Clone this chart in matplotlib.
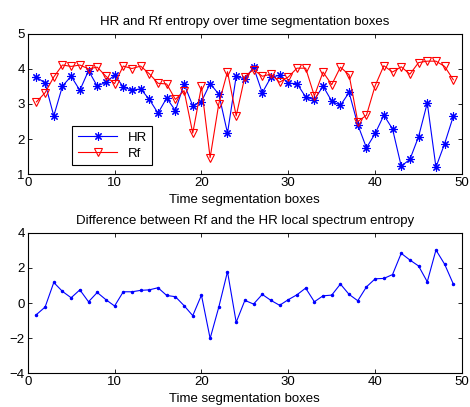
import numpy as np
import matplotlib
matplotlib.use('Agg')
import matplotlib.pyplot as plt

plt.rcParams['font.family'] = ['Liberation Sans', 'DejaVu Sans']
plt.rcParams['font.size'] = 9.5

boxes = np.arange(1, 50)

hr = [3.77, 3.59, 2.66, 3.51, 3.79, 3.39, 3.95, 3.51, 3.62, 3.82,
      3.49, 3.39, 3.43, 3.13, 2.74, 3.17, 2.81, 3.57, 2.95, 3.07,
      3.58, 3.28, 2.17, 3.79, 3.71, 4.05, 3.32, 3.76, 3.82, 3.59,
      3.58, 3.20, 3.12, 3.51, 3.08, 2.96, 3.33, 2.41, 1.75, 2.16,
      2.68, 2.29, 1.23, 1.42, 2.07, 3.03, 1.20, 1.87, 2.65]

rf = [3.06, 3.32, 3.77, 4.11, 4.07, 4.11, 4.00, 4.05, 3.79, 3.58,
      4.08, 4.01, 4.08, 3.86, 3.59, 3.57, 3.13, 3.38, 2.17, 3.50,
      1.47, 3.01, 3.92, 2.66, 3.78, 3.98, 3.79, 3.85, 3.62, 3.77,
      4.02, 4.02, 3.23, 3.91, 3.55, 4.05, 3.83, 2.50, 2.68, 3.52,
      4.09, 3.91, 4.06, 3.85, 4.18, 4.22, 4.22, 4.07, 3.69]

diff = [-0.66, -0.23, 1.17, 0.66, 0.30, 0.75, 0.07, 0.60, 0.19, -0.17,
        0.64, 0.64, 0.72, 0.75, 0.87, 0.43, 0.36, -0.15, -0.72, 0.45,
        -2.02, -0.23, 1.79, -1.10, 0.15, -0.06, 0.49, 0.15, -0.13, 0.19,
        0.47, 0.85, 0.07, 0.41, 0.45, 1.08, 0.49, 0.13, 0.92, 1.38,
        1.40, 1.62, 2.83, 2.45, 2.11, 1.21, 3.02, 2.21, 1.08]

fig = plt.figure(figsize=(4.70, 4.07), dpi=100)

def style(ax):
    ax.tick_params(direction='in', top=True, right=True, length=3, width=0.6, pad=2)
    for s in ax.spines.values():
        s.set_linewidth(0.8)

# MATLAB style asterisk
star = (8, 2, 0)

ax1 = fig.add_axes([0.059, 0.572, 0.924, 0.345])
ax1.plot(boxes, hr, '-', color='b', marker=star, lw=0.8, ms=6, mew=0.8, label='HR')
ax1.plot(boxes, rf, 'r-v', lw=0.8, ms=6, mew=0.8, mfc='none', label='Rf')
ax1.set_xlim(0, 50)
ax1.set_ylim(1, 5)
ax1.set_yticks([1, 2, 3, 4, 5])
ax1.set_title('HR and Rf entropy over time segmentation boxes', fontsize=9.5, pad=6)
ax1.set_xlabel('Time segmentation boxes', labelpad=3.5)
style(ax1)
leg = ax1.legend(loc='lower left', bbox_to_anchor=(0.103, 0.064), fancybox=False,
                 edgecolor='black', framealpha=1, borderpad=0.4, handlelength=3,
                 labelspacing=0.3, borderaxespad=0, fontsize=9.5)
leg.get_frame().set_linewidth(0.8)

ax2 = fig.add_axes([0.059, 0.083, 0.924, 0.345])
ax2.plot(boxes, diff, 'b.-', lw=0.8, ms=3)
ax2.set_xlim(0, 50)
ax2.set_ylim(-4, 4)
ax2.set_yticks([-4, -2, 0, 2, 4])
ax2.set_title('Difference between Rf and the HR local spectrum entropy', fontsize=9.5, pad=6)
ax2.set_xlabel('Time segmentation boxes', labelpad=3.5)
style(ax2)

fig.savefig('out.png', dpi=100)
